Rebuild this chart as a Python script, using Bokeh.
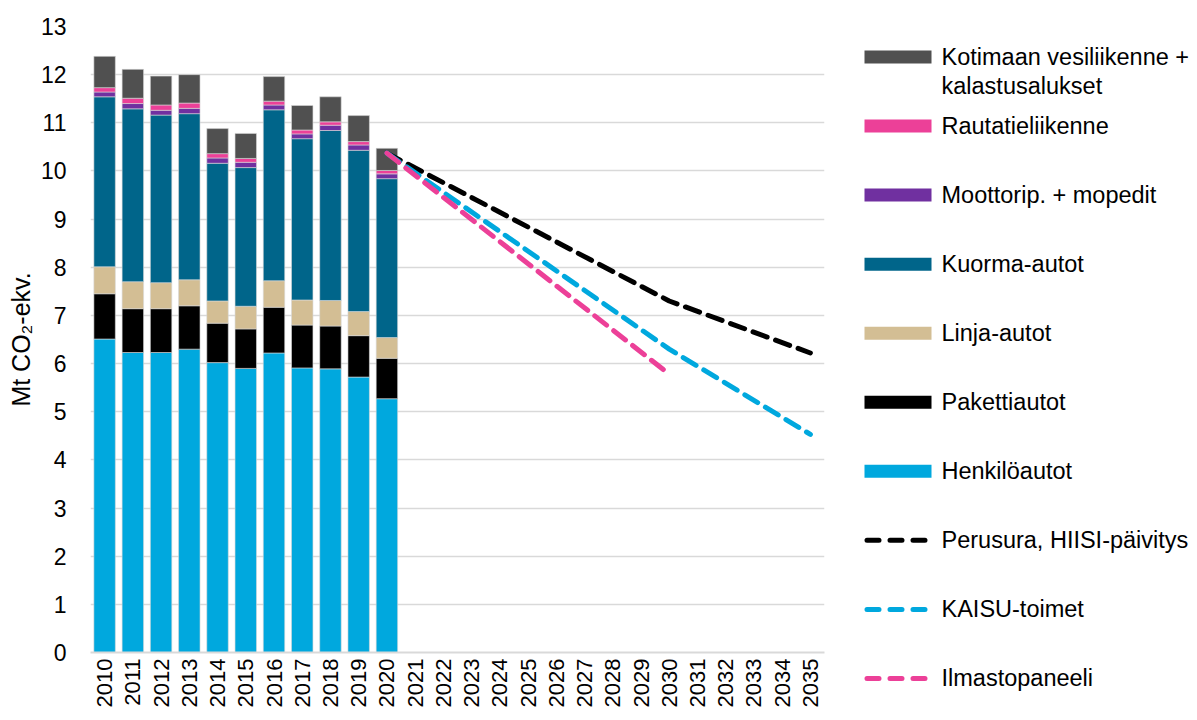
import math
from bokeh.plotting import figure
from bokeh.models import ColumnDataSource, FactorRange, Range1d, SingleIntervalTicker
from bokeh.layouts import row, column
from bokeh.core.properties import value
from bokeh.embed import file_html
from bokeh.resources import INLINE

# ---------------- data ----------------
hist_years = [str(y) for y in range(2010, 2021)]
all_years = [str(y) for y in range(2010, 2036)]

henkiloautot = [6.51, 6.23, 6.23, 6.30, 6.02, 5.90, 6.22, 5.91, 5.89, 5.72, 5.27]
pakettiautot = [0.94, 0.91, 0.91, 0.90, 0.82, 0.82, 0.95, 0.89, 0.89, 0.86, 0.84]
linja_autot = [0.56, 0.56, 0.54, 0.54, 0.46, 0.47, 0.55, 0.52, 0.53, 0.50, 0.43]
kuorma_autot = [3.53, 3.59, 3.48, 3.45, 2.86, 2.88, 3.55, 3.35, 3.53, 3.35, 3.30]
moottorip = [0.10, 0.11, 0.10, 0.11, 0.11, 0.11, 0.10, 0.10, 0.11, 0.11, 0.10]
rautatie = [0.09, 0.11, 0.11, 0.11, 0.09, 0.08, 0.08, 0.08, 0.07, 0.07, 0.07]
vesiliikenne = [0.65, 0.60, 0.60, 0.59, 0.52, 0.52, 0.51, 0.51, 0.52, 0.54, 0.46]

perusura_years = ["2020", "2030", "2035"]
perusura_vals = [10.37, 7.30, 6.22]
kaisu_years = ["2020", "2030", "2035"]
kaisu_vals = [10.37, 6.30, 4.53]
ilmasto_years = ["2020", "2030"]
ilmasto_vals = [10.37, 5.78]

bar_names = ["Henkilöautot", "Pakettiautot", "Linja-autot", "Kuorma-autot",
             "Moottorip. + mopedit", "Rautatieliikenne",
             "Kotimaan vesiliikenne + kalastusalukset"]
bar_colors = ["#00A8DE", "#000000", "#D3BE94", "#00658A", "#7030A0", "#EC4098", "#505050"]
line_names = ["Perusura, HIISI-päivitys", "KAISU-toimet", "Ilmastopaneeli"]
line_colors = ["#000000", "#00A8DE", "#EC4098"]

FONT = "Liberation Sans"

# ---------------- main chart ----------------
keys = ["henk", "pak", "linja", "kuorma", "moot", "rauta", "vesi"]
src = ColumnDataSource(dict(year=hist_years, henk=henkiloautot, pak=pakettiautot,
                            linja=linja_autot, kuorma=kuorma_autot, moot=moottorip,
                            rauta=rautatie, vesi=vesiliikenne))

MAIN_W, H = 826, 712
p = figure(x_range=FactorRange(*all_years), y_range=Range1d(0, 13),
           width=MAIN_W, height=H, output_backend="svg", toolbar_location=None,
           min_border_left=90, min_border_top=26, min_border_bottom=60, min_border_right=2)

p.vbar_stack(keys, x="year", width=0.76, source=src, fill_color=bar_colors,
             line_color="#d8d8d8", line_width=0.6)

for yrs, vals, col in [(perusura_years, perusura_vals, line_colors[0]),
                       (kaisu_years, kaisu_vals, line_colors[1]),
                       (ilmasto_years, ilmasto_vals, line_colors[2])]:
    p.line(x=yrs, y=vals, line_color=col, line_width=5, line_dash="15 9", line_cap="round")

p.outline_line_color = None
p.xgrid.grid_line_color = None
p.ygrid.grid_line_color = "#d9d9d9"
p.ygrid.grid_line_width = 1.5

p.axis.major_tick_out = 0
p.axis.major_tick_in = 0
p.axis.minor_tick_out = 0
p.axis.minor_tick_in = 0

p.yaxis.ticker = SingleIntervalTicker(interval=1)
p.yaxis.axis_line_color = None
p.yaxis.major_tick_line_color = None
p.yaxis.minor_tick_line_color = None
p.yaxis.major_label_standoff = 24
p.yaxis.axis_label = "Mt CO₂-ekv."
p.yaxis.axis_label_standoff = 3
p.yaxis.axis_label_text_font = FONT
p.yaxis.axis_label_text_font_style = "normal"
p.yaxis.axis_label_text_font_size = "25px"
p.yaxis.axis_label_text_color = "black"

p.xaxis.axis_line_color = "#d9d9d9"
p.xaxis.axis_line_width = 2
p.xaxis.major_tick_line_color = None
p.xaxis.minor_tick_line_color = None
p.xaxis.major_label_orientation = math.pi / 2
p.xaxis.major_label_standoff = 6
p.xaxis.major_label_text_font_size = "22px"

p.axis.major_label_text_font = FONT
p.axis.major_label_text_color = "black"
p.yaxis.major_label_text_font_size = "23px"

# ---------------- legend panel ----------------
# separate figure whose plot area spans its whole height; y data units = page pixels
LW = 365
PAGE_TOP = 1
lg = figure(width=LW, height=H, x_range=Range1d(0, LW),
            y_range=Range1d(PAGE_TOP + H, PAGE_TOP),
            output_backend="svg", toolbar_location=None, min_border=0,
            x_axis_location=None, y_axis_location=None)
lg.grid.visible = False
lg.outline_line_color = None

y0, step = 57.5, 69.05
sw_x0, sw_x1, txt_x = 38, 105, 115
LEG_FONT = "23.5px"

patch_order = list(range(len(bar_names)))[::-1]  # top: Kotimaan ... bottom: Henkilöautot
for i, bi in enumerate(patch_order):
    yc = y0 + i * step
    lg.quad(left=[sw_x0], right=[sw_x1], top=[yc - 6.5], bottom=[yc + 6.5],
            fill_color=bar_colors[bi], line_color=None)
for j in range(len(line_names)):
    yc = y0 + (len(bar_names) + j) * step
    lg.line(x=[sw_x0 + 2.5, sw_x1 - 6.5], y=[yc, yc], line_color=line_colors[j],
            line_width=5, line_dash="12 11", line_cap="round")

labels, lys = [], []
for i, bi in enumerate(patch_order):
    yc = y0 + i * step
    if bi == 6:
        labels += ["Kotimaan vesiliikenne +", "kalastusalukset"]
        lys += [yc, yc + 28.5]
    else:
        labels.append(bar_names[bi])
        lys.append(yc)
for j, nm in enumerate(line_names):
    labels.append(nm)
    lys.append(y0 + (len(bar_names) + j) * step)

lg.text(x=[txt_x] * len(labels), y=lys, text=labels, text_baseline="middle",
        text_align="left", text_font=value(FONT), text_font_size=LEG_FONT,
        text_color="black")

layout = row(p, column(lg))
open("out.html", "w").write(file_html(layout, INLINE))
